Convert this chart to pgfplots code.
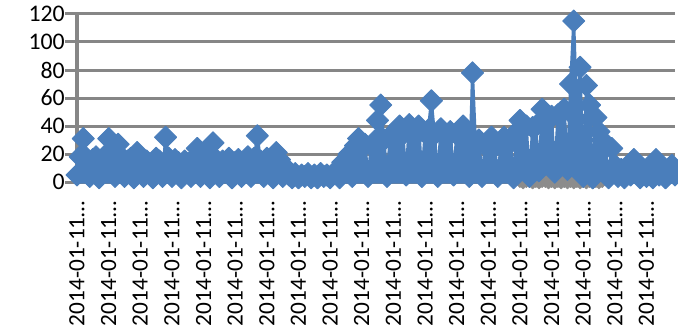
\documentclass[border=0pt]{standalone}
\usepackage{fontspec}
\setmainfont{Carlito}
\usepackage{pgfplots}
\usepackage{pgfplotstable}
\pgfplotsset{compat=1.18}
\definecolor{serblue}{HTML}{4A7EBB}
\definecolor{gridgray}{HTML}{868686}
\definecolor{sergray}{HTML}{8C8C8C}
\pgfplotstableread[row sep=\\]{
i v\\
0 5\\ 1 18\\ 2 31\\ 3 17\\ 4 4\\ 5 16\\ 6 18\\ 7 3\\ 8 15\\ 9 19\\
10 31\\ 11 16\\ 12 4\\ 13 27\\ 14 18\\ 15 4\\ 16 15\\ 17 17\\ 18 3\\ 19 21\\
20 16\\ 21 4\\ 22 15\\ 23 13\\ 24 3\\ 25 17\\ 26 15\\ 27 4\\ 28 32\\ 29 17\\
30 4\\ 31 16\\ 32 14\\ 33 3\\ 34 15\\ 35 13\\ 36 4\\ 37 17\\ 38 24\\ 39 4\\
40 16\\ 41 17\\ 42 3\\ 43 28\\ 44 16\\ 45 4\\ 46 15\\ 47 14\\ 48 17\\ 49 3\\
50 14\\ 51 16\\ 52 4\\ 53 13\\ 54 18\\ 55 4\\ 56 17\\ 57 33\\ 58 15\\ 59 4\\
60 17\\ 61 14\\ 62 3\\ 63 21\\ 64 16\\ 65 4\\ 66 10\\ 67 5\\ 68 3\\ 69 6\\
70 3\\ 71 5\\ 72 4\\ 73 6\\ 74 3\\ 75 5\\ 76 3\\ 77 6\\ 78 4\\ 79 5\\
80 3\\ 81 6\\ 82 8\\ 83 3\\ 84 14\\ 85 12\\ 86 20\\ 87 4\\ 88 26\\ 89 31\\
90 24\\ 91 27\\ 92 4\\ 93 26\\ 94 29\\ 95 44\\ 96 55\\ 97 30\\ 98 4\\ 99 33\\
100 35\\ 101 30\\ 102 40\\ 103 34\\ 104 5\\ 105 41\\ 106 36\\ 107 33\\ 108 40\\ 109 4\\
110 35\\ 111 37\\ 112 58\\ 113 34\\ 114 4\\ 115 38\\ 116 35\\ 117 32\\ 118 36\\ 119 5\\
120 34\\ 121 37\\ 122 40\\ 123 35\\ 124 4\\ 125 78\\ 126 26\\ 127 30\\ 128 4\\ 129 26\\
130 28\\ 131 32\\ 132 25\\ 133 4\\ 134 27\\ 135 32\\ 136 26\\ 137 28\\ 138 3\\ 139 36\\
140 44\\ 141 38\\ 142 40\\ 143 4\\ 144 39\\ 145 40\\ 146 8\\ 147 52\\ 148 46\\ 149 44\\
150 47\\ 151 7\\ 152 48\\ 153 50\\ 154 52\\ 155 9\\ 156 70\\ 157 115\\ 158 45\\ 159 82\\
160 4\\ 161 69\\ 162 55\\ 163 3\\ 164 46\\ 165 36\\ 166 30\\ 167 26\\ 168 3\\ 169 24\\
170 12\\ 171 4\\ 172 9\\ 173 3\\ 174 8\\ 175 5\\ 176 16\\ 177 6\\ 178 3\\ 179 9\\
180 4\\ 181 7\\ 182 3\\ 183 16\\ 184 5\\ 185 8\\ 186 3\\ 187 6\\ 188 12\\ 189 5\\
}\bluedata
\pgfplotstableread[row sep=\\]{
i v\\
140 1\\ 141 0\\ 142 1\\ 143 1\\ 144 0\\ 145 1\\ 146 0\\ 147 1\\ 148 1\\ 149 0\\
150 1\\ 151 0\\ 152 1\\ 153 0\\ 154 1\\ 155 0\\ 156 1\\ 157 0\\ 158 1\\ 159 0\\
160 1\\ 161 0\\ 162 1\\ 163 0\\ 164 1\\ 165 0\\ 166 1\\
}\graydata
\begin{document}
\begin{tikzpicture}
\begin{axis}[
  at={(0,0)}, anchor=south west,
  scale only axis, width=598bp, height=168bp,
  xmin=0, xmax=189, ymin=0, ymax=120,
  clip=false,
  axis lines*=left,
  axis line style={gridgray, line width=3.5bp},
  ymajorgrids,
  grid style={gridgray, line width=3bp},
  ytick={0,20,...,120},
  xtick={0,10,...,180},
  xticklabel={2014-01-11…},
  tick align=outside,
  major tick length=12bp,
  ytick style={gridgray, line width=3bp},
  xtick style={draw=none},
  tick label style={text=black},
  yticklabel style={font=\fontsize{23.8bp}{28bp}\selectfont},
  xticklabel style={font=\fontsize{23.3bp}{28bp}\selectfont},
  /pgf/number format/assume math mode=true,
  yticklabel style={anchor=east, inner sep=0pt},
  xticklabel style={anchor=east, inner sep=0pt, rotate=90},
  xticklabel shift=7bp,
]
\addplot[sergray, line width=2bp, line join=round, mark=square*, mark size=5bp, mark options={rotate=45, solid, fill=sergray, draw=sergray, line width=0.5bp}] table[x=i, y=v] {\graydata};
\addplot[serblue, fill=serblue, line width=3bp, line join=round, mark=square*, mark size=7.8bp, mark options={rotate=45, solid, fill=serblue, draw=serblue, line width=1bp}] table[x=i, y=v] {\bluedata} \closedcycle;
\end{axis}
\pgfresetboundingbox
\useasboundingbox (-77bp,-146bp) rectangle (601bp,182bp);
\end{tikzpicture}
\end{document}
